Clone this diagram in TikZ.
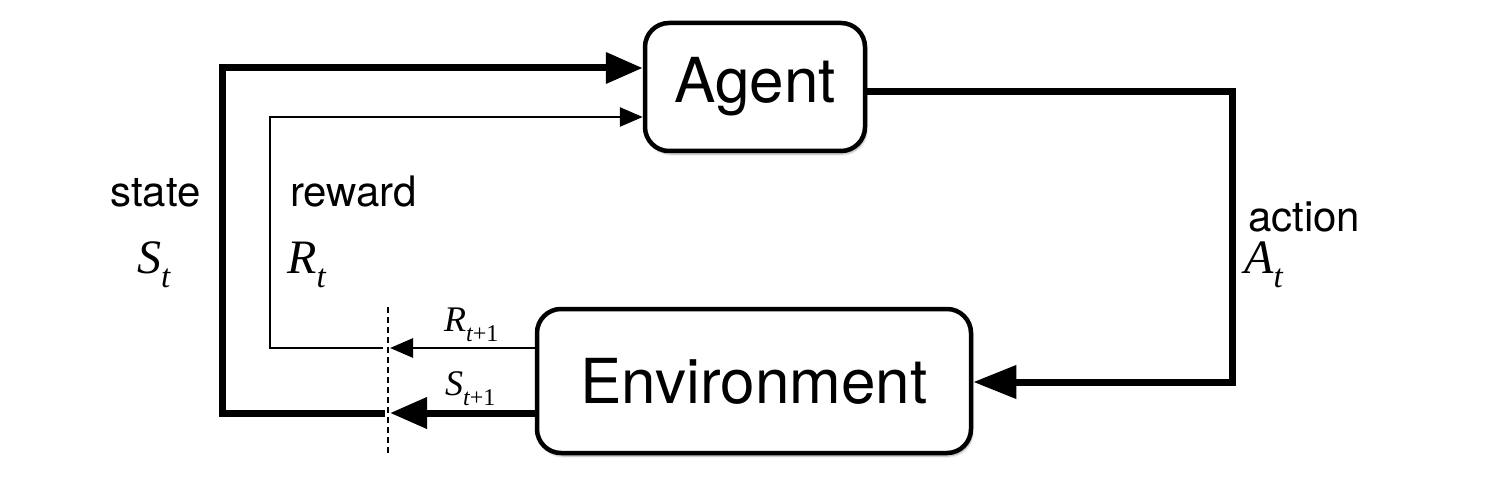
\documentclass[tikz,border=0pt]{standalone}
\usepackage{fontspec}
\setmainfont{TeX Gyre Heros}
\newfontfamily\tms{Liberation Serif}
\usetikzlibrary{arrows.meta,calc,shadows.blur}
\newcommand\mvar[3]{{\tms\itshape #1\raisebox{-0.28em}{\fontsize{#3}{#3}\selectfont #2}}}
\begin{document}
\begin{tikzpicture}[x=1pt,y=-1pt,
  boxnode/.style={draw,line width=4.5pt,rounded corners=24pt,fill=white,
    blur shadow={shadow blur steps=6,shadow xshift=1.5pt,shadow yshift=-3pt,shadow opacity=35},
    font=\fontsize{62}{62}\selectfont,inner sep=0pt},
  thickline/.style={line width=7pt},
  thinline/.style={line width=2.8pt},
  bigtip/.style={-{Triangle[length=37pt,width=30pt]}},
  smalltip/.style={-{Triangle[length=23pt,width=19pt]}},
  lbl/.style={font=\fontsize{42}{42}\selectfont,inner sep=0pt,anchor=base west},
  mlbl/.style={font=\fontsize{48}{48}\selectfont,inner sep=0pt,anchor=base west},
  slbl/.style={font=\fontsize{36}{36}\selectfont,inner sep=0pt,anchor=base west}]
\useasboundingbox (0,0) rectangle (1512,478);
\node[boxnode,minimum width=220pt,minimum height=128pt] (agent) at (755,87) {Agent};
\node[boxnode,minimum width=434pt,minimum height=144pt] (env) at (754,381) {Environment};
% dashed separator
\coordinate (dtop) at (388,307);
\coordinate (dbot) at (388,455);
\draw[line width=1.6pt,dash pattern=on 6pt off 4pt] (dtop) -- (dbot);
% coordinates
\coordinate (sR) at ($(env.west)+(0,-33)$);
\coordinate (sS) at ($(env.west)+(0,32)$);
\coordinate (dR) at (390,348);
\coordinate (dS) at (390,413);
\coordinate (cR1) at (383,348);
\coordinate (cR2) at (270,348);
\coordinate (cR3) at (270,117);
\coordinate (cS1) at (385,413);
\coordinate (cS2) at (222,413);
\coordinate (cS3) at (222,68);
\coordinate (aR) at (1232,92);
\coordinate (aB) at (1232,382);
% env -> dashed
\draw[thinline,smalltip] (sR) -- (dR);
\draw[thickline,bigtip] (sS) -- (dS);
% feedback to agent
\draw[thinline,smalltip] (cR1) -- (cR2) -- (cR3) -- (agent.west |- cR3);
\draw[thickline,bigtip] (cS1) -- (cS2) -- (cS3) -- (agent.west |- cS3);
% action
\draw[thickline,-{Triangle[length=43pt,width=32pt]}] (agent.east |- aR) -- (aR) -- (aB) -- (env.east |- aB);
% labels
\node[lbl] (lstate) at (110,207) {state};
\node[mlbl] (lSt) at (137,274) {\mvar{S}{t}{33}};
\node[lbl] (lreward) at (290,207) {reward};
\node[mlbl] (lRt) at (287,274) {\mvar{R}{t}{33}};
\node[lbl] (laction) at (1248,232) {action};
\node[mlbl] (lAt) at (1244,274) {\mvar{A}{t}{33}};
\node[slbl] (lR1) at (444,331) {\mvar{R}{t\upshape+1}{24}};
\node[slbl] (lS1) at (445,395) {\mvar{S}{t\upshape+1}{24}};
\end{tikzpicture}
\end{document}
